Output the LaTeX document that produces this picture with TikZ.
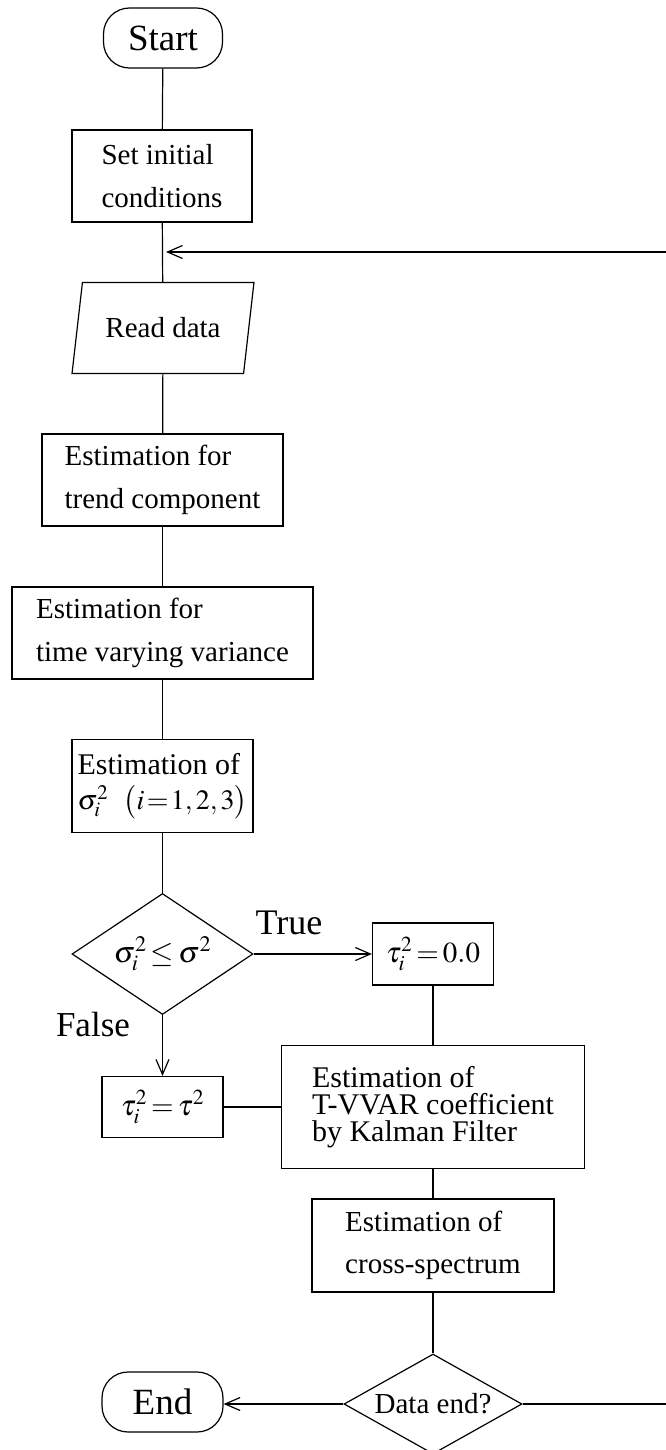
\documentclass[tikz,border=0pt]{standalone}
\usepackage{mathptmx}
\usepackage[no-math]{fontspec}
\setmainfont{Liberation Serif}
\usetikzlibrary{shapes.geometric, arrows.meta}

\newcommand{\tightmath}{\thickmuskip=2.5mu\relax\medmuskip=1.5mu\relax}
\newcommand{\tightermath}{\thickmuskip=1.5mu\relax\medmuskip=1mu\relax}

\begin{document}
\begin{tikzpicture}[x=1pt, y=-1pt, line width=1.2pt,
	>={Straight Barb[length=15pt,width=13pt]},
	terminal/.style={draw, rounded corners=26pt, minimum height=60pt, inner sep=0pt, font=\fontsize{37}{44}\selectfont},
	procbox/.style={draw, align=left, inner sep=0pt, font=\fontsize{29}{43}\selectfont},
	iobox/.style={draw, trapezium, trapezium left angle=70, trapezium right angle=110, trapezium stretches=true, minimum height=91pt, minimum width=182pt, inner sep=0pt, font=\fontsize{29}{35}\selectfont},
	decbox/.style={draw, diamond, inner sep=0pt, font=\fontsize{30}{36}\selectfont\tightmath},
	lbl/.style={inner sep=0pt, font=\fontsize{36}{42}\selectfont}]
	\useasboundingbox (0,0) rectangle (666,1450);

	% main column
	\node [terminal, minimum width=119pt] (start) at (163,38) {Start};
	\node [procbox, minimum width=180pt, minimum height=92pt] (init) at (162,176) {Set initial\\conditions};
	\node [iobox] (read) at (163,328) {Read data};
	\node [procbox, minimum width=241pt, minimum height=92pt] (trend) at (162.5,480) {Estimation for\\trend component};
	\node [procbox, minimum width=301pt, minimum height=92pt] (tvv) at (162.5,633) {Estimation for\\time varying variance};
	\node [procbox, minimum width=181pt, minimum height=93pt, font=\fontsize{30}{35}\selectfont\tightermath] (sig) at (162.5,786)
		{Estimation of\\\fontsize{28}{35}\selectfont$\sigma_i^2$\;\;$\bigl(i=1,2,3\bigr)$};
	\node [decbox, minimum width=181pt, minimum height=121pt, aspect=1.5] (dec) at (162.5,954) {$\sigma_i^2\le\sigma^2$};

	% branches
	\node [procbox, minimum width=121pt, minimum height=62pt, font=\fontsize{29}{36}\selectfont\tightmath] (tau0) at (433,954) {$\tau_i^2=0.0$};
	\node [procbox, minimum width=121pt, minimum height=61pt, font=\fontsize{29}{36}\selectfont\tightmath] (taux) at (162.5,1107) {$\tau_i^2=\tau^2$};
	\node [procbox, minimum width=303pt, minimum height=123pt, font=\fontsize{30}{27}\selectfont] (kal) at (433,1107)
		{Estimation of\\T-VVAR coefficient\\by Kalman Filter};
	\node [procbox, minimum width=242pt, minimum height=93pt, font=\fontsize{29}{42}\selectfont] (cross) at (433,1245.5)
		{Estimation of\\cross-spectrum};
	\node [decbox, minimum width=178pt, minimum height=100pt, aspect=1.78, font=\fontsize{29}{34}\selectfont] (dend) at (433,1404) {Data end?};
	\node [terminal, minimum width=121pt] (end) at (162.5,1402) {End};

	\coordinate (backR) at (666,252);
	\coordinate (backE) at (666,1404);

	\draw (start) -- (init);
	\draw (init) -- (read);
	\draw [->, shorten >=4pt] (backR) -- (backR -| init.south);
	\draw (read) -- (trend);
	\draw (trend) -- (tvv);
	\draw (tvv) -- (sig);
	\draw (sig) -- (dec);
	\draw [->] (dec.east) -- (tau0.west) node [lbl, pos=0.3, above=19pt] {True};
	\draw [->] (dec.south) -- (taux.north) node [lbl, font=\fontsize{35}{40}\selectfont, pos=0.16, left=32pt] {False};
	\draw (taux.east) -- (kal.west);
	\draw (tau0.south) -- (kal.north);
	\draw (kal) -- (cross);
	\draw (cross) -- (dend);
	\draw [->] (dend.west) -- (dend.west -| end.east);
	\draw (dend.east) -- (backE);
\end{tikzpicture}
\end{document}
